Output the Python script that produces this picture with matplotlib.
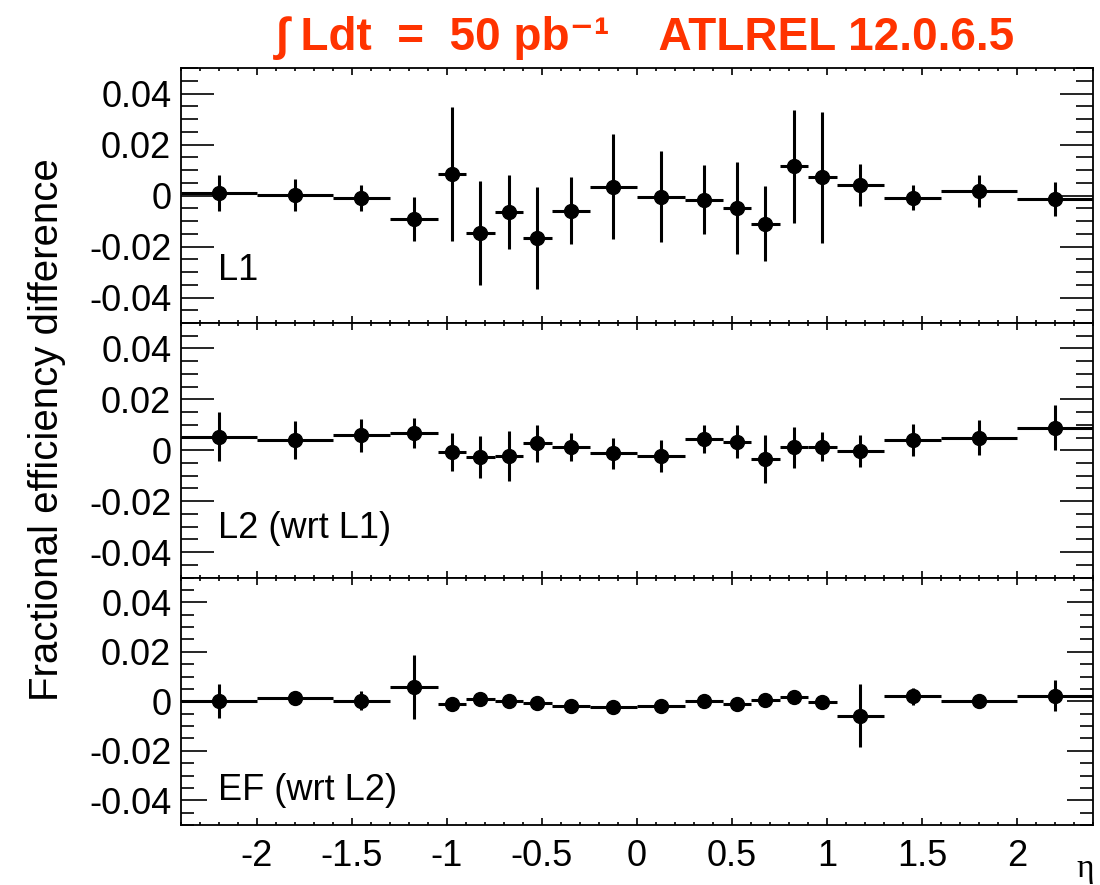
import numpy as np
import matplotlib
matplotlib.use('Agg')
import matplotlib.pyplot as plt
from matplotlib.ticker import MultipleLocator, FixedLocator

plt.rcParams['font.family'] = ['Liberation Sans', 'DejaVu Sans']
plt.rcParams['axes.unicode_minus'] = False

# eta bin edges
edges = np.array([-2.4, -2.0, -1.6, -1.3, -1.05, -0.9, -0.75, -0.6, -0.45, -0.25, 0.0,
                  0.25, 0.45, 0.6, 0.75, 0.9, 1.05, 1.3, 1.6, 2.0, 2.4])

l1_val = [0.0009, 0.0003, -0.0010, -0.0093, 0.0085, -0.0147, -0.0065, -0.0165, -0.0060, 0.0035,
          -0.0004, -0.0017, -0.0050, -0.0110, 0.0114, 0.0072, 0.0042, -0.0008, 0.0018, -0.0014]
l1_err = [0.0070, 0.0062, 0.0050, 0.0087, 0.0262, 0.0204, 0.0146, 0.0200, 0.0132, 0.0205,
          0.0180, 0.0135, 0.0180, 0.0147, 0.0220, 0.0257, 0.0083, 0.0049, 0.0063, 0.0067]

l2_val = [0.0054, 0.0040, 0.0059, 0.0067, -0.0007, -0.0026, -0.0022, 0.0027, 0.0013, -0.0012,
          -0.0022, 0.0046, 0.0034, -0.0035, 0.0011, 0.0014, -0.0003, 0.0040, 0.0050, 0.0089]
l2_err = [0.0097, 0.0074, 0.0065, 0.0060, 0.0076, 0.0082, 0.0099, 0.0073, 0.0055, 0.0062,
          0.0063, 0.0055, 0.0065, 0.0095, 0.0080, 0.0058, 0.0062, 0.0062, 0.0069, 0.0089]

ef_val = [0.0000, 0.0014, 0.0003, 0.0057, -0.0011, 0.0010, 0.0000, -0.0007, -0.0018, -0.0024,
          -0.0018, 0.0000, -0.0013, 0.0007, 0.0016, -0.0004, -0.0058, 0.0020, 0.0003, 0.0023]
ef_err = [0.0069, 0.0015, 0.0039, 0.0130, 0.0015, 0.0015, 0.0015, 0.0015, 0.0015, 0.0015,
          0.0015, 0.0015, 0.0015, 0.0015, 0.0015, 0.0015, 0.0128, 0.0035, 0.0015, 0.0064]

panels = [("L1", l1_val, l1_err), ("L2 (wrt L1)", l2_val, l2_err), ("EF (wrt L2)", ef_val, ef_err)]

centers = (edges[:-1] + edges[1:]) / 2
halfw = (edges[1:] - edges[:-1]) / 2

fig = plt.figure(figsize=(11, 8.85), dpi=100)

# panel boxes in pixels (top, bottom)
boxes = [(68, 323), (323, 577.5), (577.5, 825)]
left, right = 181 / 1100, 1093 / 1100
label_y = [0.167, 0.155, 0.10]
ticklen = [(24, 12), (24, 12), (19, 9.5)]

for i, ((name, val, err), (top, bot)) in enumerate(zip(panels, boxes)):
    ax = fig.add_axes([left, 1 - bot / 885, right - left, (bot - top) / 885])
    ax.errorbar(centers, val, xerr=halfw, yerr=err, fmt='o', color='black',
                markersize=10, elinewidth=2.2, capsize=0)
    ax.set_xlim(-2.4, 2.4)
    ax.set_ylim(-0.05, 0.05)
    ax.yaxis.set_major_locator(FixedLocator([-0.04, -0.02, 0, 0.02, 0.04]))
    ax.set_yticklabels(['-0.04', '-0.02', '0', '0.02', '0.04'])
    ax.yaxis.set_minor_locator(MultipleLocator(0.005))
    ax.xaxis.set_major_locator(MultipleLocator(0.5))
    ax.xaxis.set_minor_locator(MultipleLocator(0.1))
    ax.tick_params(axis='both', which='both', direction='in', top=True, right=True, width=1.2)
    ax.tick_params(axis='y', which='major', length=ticklen[i][0], labelsize=26, pad=7)
    ax.tick_params(axis='y', which='minor', length=ticklen[i][1])
    ax.tick_params(axis='x', which='major', length=5, labelsize=26, pad=10)
    ax.tick_params(axis='x', which='minor', length=2.5)
    for s in ax.spines.values():
        s.set_linewidth(1.3)
    if i < 2:
        ax.tick_params(axis='x', labelbottom=False)
    else:
        ax.set_xticks([-2, -1.5, -1, -0.5, 0, 0.5, 1, 1.5, 2])
        ax.set_xticklabels(['-2', '-1.5', '-1', '-0.5', '0', '0.5', '1', '1.5', '2'])
    ax.text(0.041, label_y[i], name, transform=ax.transAxes, fontsize=26, va='baseline')

fig.text(0.043, 1 - 430 / 885, 'Fractional efficiency difference', rotation=90,
         ha='center', va='center', fontsize=29)
fig.text(1085 / 1100, 8 / 885, 'η', family='Liberation Serif', ha='center', va='baseline', fontsize=24)
fig.text(645 / 1100, 1 - 38 / 885, '∫ Ldt  =  50 pb⁻¹    ATLREL 12.0.6.5',
         family=['Liberation Sans', 'DejaVu Sans'], weight='bold',
         color='#ff3300', fontsize=33, ha='center', va='center')

fig.savefig('out.png', dpi=100)
